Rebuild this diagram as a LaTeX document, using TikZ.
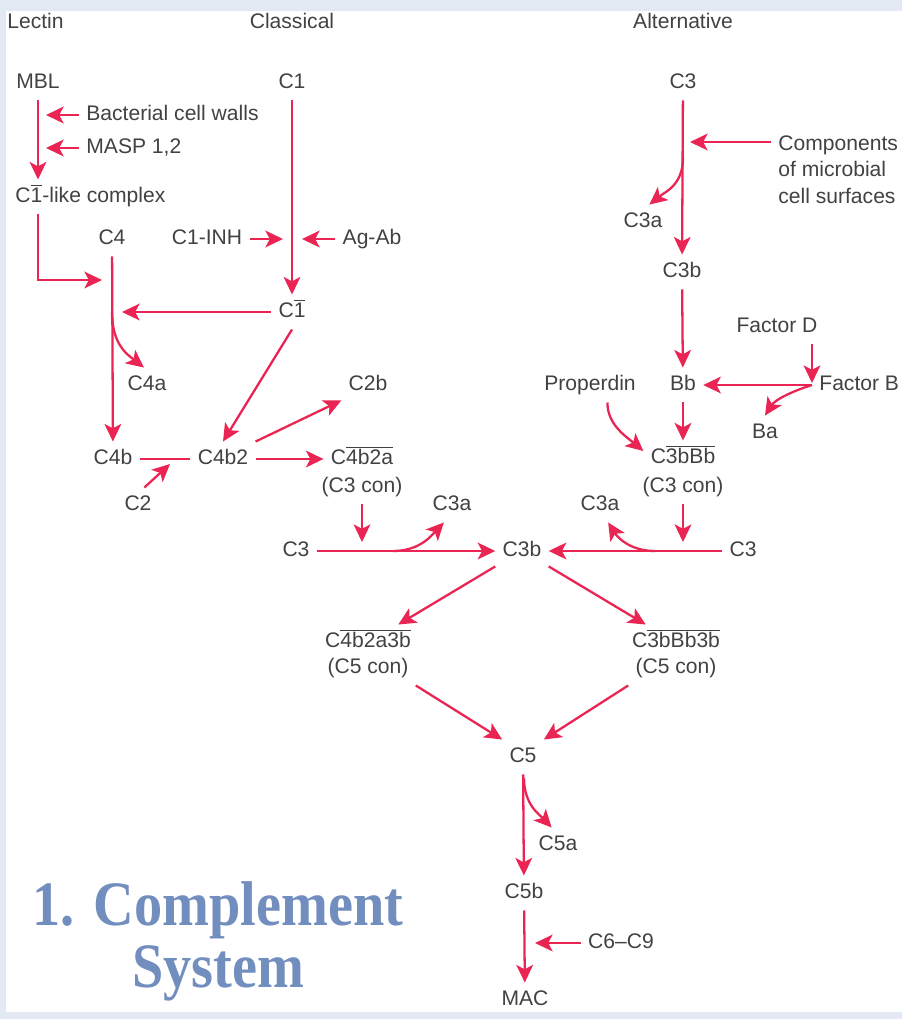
\documentclass[tikz,border=0pt]{standalone}
\usepackage{fontspec}
\setmainfont{Liberation Sans}
\newfontfamily\titlefont{Liberation Serif}
\usetikzlibrary{arrows.meta}
\definecolor{flow}{RGB}{234,37,84}
\definecolor{ink}{RGB}{66,66,66}
\definecolor{titleblue}{RGB}{114,142,190}
\definecolor{frame}{RGB}{226,233,243}
\newcommand{\barred}[1]{$\overline{\hbox{#1}}$}

\begin{document}
\begin{tikzpicture}[x=0.02cm,y=-0.02cm]
  \fill[frame] (0,0) rectangle (902,1019);
  \fill[white] (6,11) rectangle (902,1012);
  \useasboundingbox (0,0) rectangle (902,1019);
  \tikzstyle{NodeStyle}=[text=ink,font=\fontsize{12}{15}\selectfont,text height=9pt,text depth=2.5pt,inner sep=4pt]
  \tikzstyle{LineStyle}=[draw=flow,line width=1.3pt]
  \tikzstyle{EdgeStyle}=[LineStyle,->,>={Stealth[length=10pt,width=9.5pt,inset=2.5pt]}]
  % headers
  \node[NodeStyle,anchor=west] (lectin) at (0,23) {Lectin};
  \node[NodeStyle] (classical) at (292,23) {Classical};
  \node[NodeStyle] (alternative) at (683,23) {Alternative};
  % lectin
  \node[NodeStyle] (mbl) at (38,83) {MBL};
  \node[NodeStyle,anchor=west] (bacteria) at (79,115) {Bacterial cell walls};
  \node[NodeStyle,anchor=west] (masp) at (79,148) {MASP 1,2};
  \node[NodeStyle,anchor=west] (clike) at (8,197) {C\barred{1}-like complex};
  % classical
  \node[NodeStyle] (cone) at (292,83) {C1};
  \node[NodeStyle] (cinh) at (207,239) {C1-INH};
  \node[NodeStyle] (agab) at (372,239) {Ag-Ab};
  \node[NodeStyle] (conebar) at (292,312) {C\barred{1}};
  \node[NodeStyle] (cfour) at (112,239) {C4};
  \node[NodeStyle] (cfoura) at (147,385) {C4a};
  \node[NodeStyle] (cfourb) at (113,459) {C4b};
  \node[NodeStyle] (ctwo) at (138,505) {C2};
  \node[NodeStyle] (cfourbtwo) at (223,459) {C4b2};
  \node[NodeStyle] (ctwob) at (368,385) {C2b};
  \node[NodeStyle] (cconv) at (362,459) {C\barred{4b2a}};
  \node[NodeStyle] (cconvtag) at (362,487) {(C3 con)};
  % alternative
  \node[NodeStyle] (acthree) at (683,83) {C3};
  \node[text=ink,font=\fontsize{12}{15.3}\selectfont,align=left,inner sep=4pt,anchor=north west] (surface) at (771,128) {Components\\of microbial\\cell surfaces};
  \node[NodeStyle] (acthreea) at (643,222) {C3a};
  \node[NodeStyle] (acthreeb) at (682,272) {C3b};
  \node[NodeStyle] (factd) at (777,327) {Factor D};
  \node[NodeStyle,anchor=west] (factb) at (812,385) {Factor B};
  \node[NodeStyle] (bb) at (683,385) {Bb};
  \node[NodeStyle] (ba) at (765,433) {Ba};
  \node[NodeStyle] (properdin) at (590,385) {Properdin};
  \node[NodeStyle] (aconv) at (683,458) {C\barred{3bBb}};
  \node[NodeStyle] (aconvtag) at (683,487) {(C3 con)};
  % common
  \node[NodeStyle] (lcthree) at (296,551) {C3};
  \node[NodeStyle] (lcthreea) at (452,505) {C3a};
  \node[NodeStyle] (cthreeb) at (522,551) {C3b};
  \node[NodeStyle] (rcthreea) at (600,505) {C3a};
  \node[NodeStyle] (rcthree) at (743,551) {C3};
  \node[NodeStyle] (lfiveconv) at (368,642) {C\barred{4b2a3b}};
  \node[NodeStyle] (lfivetag) at (368,668) {(C5 con)};
  \node[NodeStyle] (rfiveconv) at (676,642) {C\barred{3bBb3b}};
  \node[NodeStyle] (rfivetag) at (676,668) {(C5 con)};
  \node[NodeStyle] (cfive) at (523,757) {C5};
  \node[NodeStyle] (cfivea) at (558,845) {C5a};
  \node[NodeStyle] (cfiveb) at (524,893) {C5b};
  \node[NodeStyle] (cnine) at (621,943) {C6--C9};
  \node[NodeStyle] (mac) at (525,1000) {MAC};
  % title
  \node[text=titleblue,font=\titlefont\bfseries\fontsize{36}{42}\selectfont,anchor=base] (titleone) at (218,925) {\scalebox{0.89}[1]{1. Complement}};
  \node[text=titleblue,font=\titlefont\bfseries\fontsize{36}{42}\selectfont,anchor=base] (titletwo) at (218,987) {\scalebox{0.89}[1]{System}};
  % joins on the lines
  \coordinate (lectinjoin) at (112,280);
  \coordinate (cinhjoin) at (292,239);
  \coordinate (ctwojoin) at (170,464);
  \coordinate (cfoursplit) at (112,312);
  \coordinate (lmerge) at (362,551);
  \coordinate (lsplit) at (393,551);
  \coordinate (rmerge) at (683,551);
  \coordinate (rsplit) at (655,551);
  \coordinate (surfacejoin) at (683,142);
  \coordinate (asplit) at (683,158);
  \coordinate (cfivesplit) at (524,778);
  \coordinate (cninejoin) at (524,943);
  % lectin
  \draw[EdgeStyle] (mbl) -- (mbl |- clike.north);
  \draw[EdgeStyle,shorten >=0.16cm] (bacteria.west) -- (bacteria.west -| mbl);
  \draw[EdgeStyle,shorten >=0.16cm] (masp.west) -- (masp.west -| mbl);
  \draw[EdgeStyle,shorten >=0.2cm] (mbl |- clike.south) |- (lectinjoin);
  % classical
  \draw[EdgeStyle] (cfour) -- (cfourb);
  \draw[EdgeStyle] (cfoursplit) .. controls (112,345) and (128,355) .. (cfoura.100);
  \draw[EdgeStyle,shorten >=0.18cm] (cinh) -- (cinhjoin);
  \draw[EdgeStyle,shorten >=0.2cm] (agab) -- (cinhjoin);
  \draw[EdgeStyle] (cone) -- (conebar);
  \draw[EdgeStyle,shorten >=0.2cm] (conebar) -- (conebar -| cfour);
  \draw[EdgeStyle] (conebar.south) -- (cfourbtwo.north);
  \draw[LineStyle] (cfourb) -- (cfourbtwo);
  \draw[EdgeStyle] (ctwo.70) -- (ctwojoin);
  \draw[EdgeStyle] (cfourbtwo.north east) -- (ctwob.-150);
  \draw[EdgeStyle] (cfourbtwo) -- (cconv);
  \draw[EdgeStyle,shorten >=0.18cm] (cconvtag) -- (lmerge);
  % alternative
  \draw[EdgeStyle] (acthree) -- (acthreeb);
  \draw[EdgeStyle,shorten >=0.14cm] (surface.west |- surfacejoin) -- (surfacejoin);
  \draw[EdgeStyle] (asplit) .. controls (683,185) and (665,192) .. (acthreea.70);
  \draw[EdgeStyle] (acthreeb) -- (bb);
  \draw[EdgeStyle,shorten >=0.04cm] (factd.south -| factb.west) -- (factb.west);
  \draw[EdgeStyle] (factb.west) -- (bb);
  \draw[EdgeStyle] (factb.west) .. controls (790,392) and (775,400) .. (ba.north);
  \draw[EdgeStyle] (properdin.-45) .. controls (607,425) and (628,438) .. (aconv.170);
  \draw[EdgeStyle] (bb) -- (aconv);
  \draw[EdgeStyle,shorten >=0.18cm] (aconvtag) -- (rmerge);
  % common
  \draw[EdgeStyle] (lcthree) -- (cthreeb);
  \draw[EdgeStyle] (lsplit) .. controls (420,551) and (432,535) .. (lcthreea.-115);
  \draw[EdgeStyle] (rcthree) -- (cthreeb);
  \draw[EdgeStyle] (rsplit) .. controls (628,551) and (616,535) .. (rcthreea.-65);
  \draw[EdgeStyle] (cthreeb.-150) -- (lfiveconv.30);
  \draw[EdgeStyle] (cthreeb.-30) -- (rfiveconv.150);
  \draw[EdgeStyle] (lfivetag.south east) -- (cfive.north west);
  \draw[EdgeStyle] (rfivetag.south west) -- (cfive.north east);
  \draw[EdgeStyle] (cfive) -- (cfiveb);
  \draw[EdgeStyle] (cfivesplit) .. controls (524,805) and (540,815) .. (cfivea.110);
  \draw[EdgeStyle] (cfiveb) -- (mac);
  \draw[EdgeStyle,shorten >=0.22cm] (cnine) -- (cninejoin);
\end{tikzpicture}
\end{document}
